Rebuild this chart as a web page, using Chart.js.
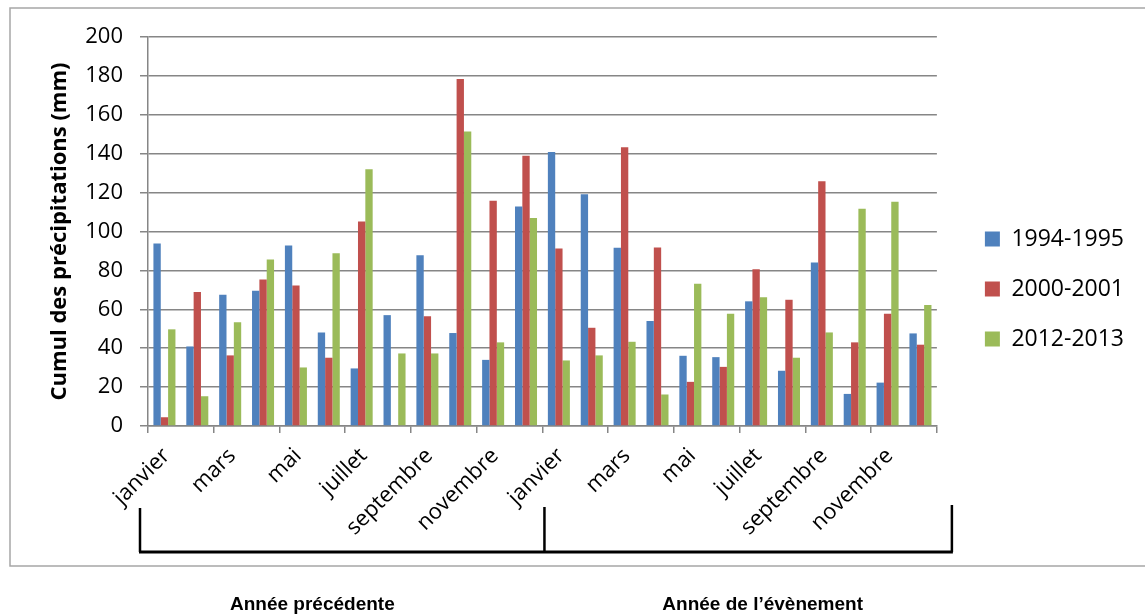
<!DOCTYPE html>
<html>
<head>
<meta charset="utf-8">
<script src="https://cdn.jsdelivr.net/npm/chart.js@4/dist/chart.umd.min.js"></script>
<style>
  html, body { margin: 0; padding: 0; background: #ffffff; }
  #wrap { position: relative; width: 1145px; height: 616px; }
</style>
</head>
<body>
<div id="wrap"><canvas id="c" width="1145" height="616"></canvas></div>
<script>
// Monthly precipitation totals (mm), previous year followed by the event year
const months = ['janvier', 'février', 'mars', 'avril', 'mai', 'juin', 'juillet', 'août', 'septembre', 'octobre', 'novembre', 'décembre'];
const categories = months.concat(months);
const seriesNames = ['1994-1995', '2000-2001', '2012-2013'];
const values1994 = [93.8, 40.9, 67.5, 69.6, 92.8, 48.1, 29.6, 57.0, 87.8, 47.8, 34.0, 112.9,
                    140.9, 119.2, 91.6, 54.0, 36.1, 35.4, 64.1, 28.4, 84.0, 16.5, 22.3, 47.6];
const values2000 = [4.5, 68.9, 36.3, 75.3, 72.2, 35.1, 105.2, 0, 56.4, 178.4, 115.8, 139.0,
                    91.2, 50.5, 143.3, 91.8, 22.7, 30.4, 80.6, 64.9, 125.8, 43.0, 57.7, 41.8];
const values2012 = [49.7, 15.3, 53.4, 85.6, 30.1, 88.8, 132.0, 37.3, 37.3, 151.4, 43.0, 106.9,
                    33.7, 36.3, 43.3, 16.2, 73.2, 57.7, 66.2, 35.1, 48.1, 111.7, 115.3, 62.2];
const yTicks = [0, 20, 40, 60, 80, 100, 120, 140, 160, 180, 200];
const sectionLabels = ['Année précédente', 'Année de l’évènement'];

const colors = ['#4F81BD', '#C0504D', '#9BBB59'];
const gridColor = '#868686';
const tickFont = "'Open Sans', 'DejaVu Sans', sans-serif";

// Frame around the chart, the year brackets under the month labels and their captions
const decorations = {
  id: 'decorations',
  afterDraw(chart) {
    const ctx = chart.ctx;
    const xs = chart.scales.x;
    ctx.save();
    ctx.strokeStyle = '#a6a6a6';
    ctx.lineWidth = 1.5;
    ctx.strokeRect(10, 8, 1160, 558);

    const left = xs.left - 8;
    const mid = (xs.getPixelForValue(11) + xs.getPixelForValue(12)) / 2 + 2;
    const right = xs.right + 15;
    ctx.strokeStyle = '#000000';
    ctx.lineWidth = 2.5;
    ctx.beginPath();
    ctx.moveTo(left, 508); ctx.lineTo(left, 552);
    ctx.moveTo(mid, 507); ctx.lineTo(mid, 552);
    ctx.moveTo(right, 505); ctx.lineTo(right, 552);
    ctx.stroke();
    ctx.lineWidth = 3;
    ctx.beginPath();
    ctx.moveTo(left - 1, 552); ctx.lineTo(right + 1, 552);
    ctx.stroke();

    ctx.fillStyle = '#000000';
    ctx.font = "bold 19px 'Liberation Sans Narrow', 'Liberation Sans', Arial, sans-serif";
    ctx.textAlign = 'center';
    ctx.textBaseline = 'middle';
    ctx.fillText(sectionLabels[0], xs.getPixelForValue(4.5), 605);
    ctx.fillText(sectionLabels[1], xs.getPixelForValue(18.2), 605);
    ctx.restore();
  }
};

new Chart(document.getElementById('c'), {
  type: 'bar',
  data: {
    labels: categories,
    datasets: [
      { label: seriesNames[0], data: values1994, backgroundColor: colors[0] },
      { label: seriesNames[1], data: values2000, backgroundColor: colors[1] },
      { label: seriesNames[2], data: values2012, backgroundColor: colors[2] }
    ]
  },
  options: {
    responsive: false,
    animation: false,
    devicePixelRatio: 1,
    layout: { padding: { left: 10, top: 37, right: 11, bottom: 75 } },
    datasets: { bar: { categoryPercentage: 0.67, barPercentage: 1.0, borderWidth: 0 } },
    scales: {
      x: {
        offset: true,
        afterFit(s) { s.height = 115; },
        grid: {
          offset: true,
          drawOnChartArea: false,
          tickLength: 7,
          lineWidth: 1.5,
          color(ctx) {
            if (ctx.type !== 'tick') return gridColor;
            return ctx.index % 2 === 0 ? gridColor : 'rgba(0,0,0,0)';
          }
        },
        border: { color: gridColor, width: 1.5 },
        ticks: {
          autoSkip: false,
          maxRotation: 45,
          minRotation: 45,
          padding: 10,
          labelOffset: 2,
          color: '#000000',
          font: { family: tickFont, size: 22 },
          callback(value, index) { return index % 2 === 0 ? categories[index] : ''; }
        }
      },
      y: {
        min: 0,
        max: 200,
        afterFit(s) { s.width = 138; },
        afterBuildTicks(s) { s.ticks = yTicks.map(v => ({ value: v })); },
        grid: { color: gridColor, lineWidth: 1.5, tickLength: 8 },
        border: { color: gridColor, width: 1.5 },
        ticks: {
          padding: 17,
          color: '#000000',
          font: { family: tickFont, size: 22 }
        },
        title: {
          display: true,
          text: 'Cumul des précipitations (mm)',
          color: '#000000',
          font: { family: tickFont, size: 22, weight: 'bold', lineHeight: 1.2 },
          padding: { top: 37, bottom: 0 }
        }
      },
      gap: {
        type: 'linear',
        position: 'right',
        afterFit(s) { s.width = 21; },
        grid: { display: false },
        border: { display: false },
        ticks: { display: false }
      }
    },
    plugins: {
      legend: {
        position: 'right',
        align: 'center',
        labels: {
          boxWidth: 15,
          boxHeight: 15,
          padding: 27,
          color: '#000000',
          font: { family: tickFont, size: 23 }
        }
      },
      tooltip: { enabled: false }
    }
  },
  plugins: [decorations]
});
</script>
</body>
</html>
